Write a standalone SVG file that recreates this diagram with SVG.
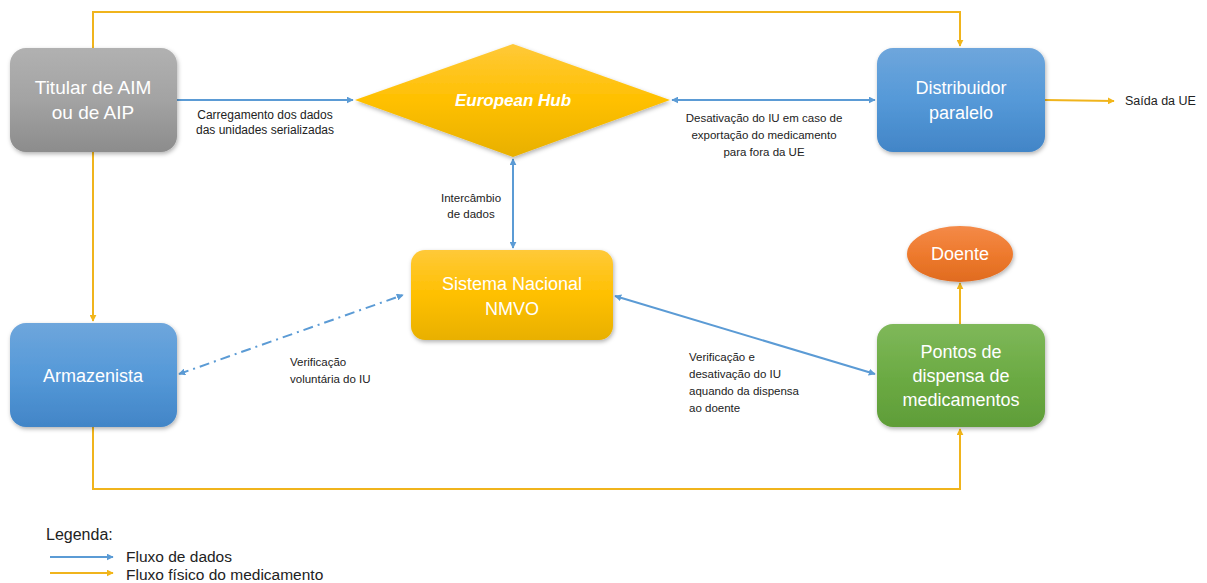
<svg xmlns="http://www.w3.org/2000/svg" width="1207" height="583" viewBox="0 0 1207 583">
<defs>
  <linearGradient id="gGray" x1="0" y1="0" x2="0" y2="1"><stop offset="0" stop-color="#b1b1b1"/><stop offset="0.5" stop-color="#a3a3a3"/><stop offset="1" stop-color="#8c8c8c"/></linearGradient>
  <linearGradient id="gBlue" x1="0" y1="0" x2="0" y2="1"><stop offset="0" stop-color="#6ea6dc"/><stop offset="0.5" stop-color="#5599d8"/><stop offset="1" stop-color="#4285c7"/></linearGradient>
  <linearGradient id="gYellow" x1="0" y1="0" x2="0" y2="1"><stop offset="0" stop-color="#ffc939"/><stop offset="0.5" stop-color="#ffc000"/><stop offset="1" stop-color="#e8b000"/></linearGradient>
  <linearGradient id="gGreen" x1="0" y1="0" x2="0" y2="1"><stop offset="0" stop-color="#7fb85a"/><stop offset="0.5" stop-color="#6cab44"/><stop offset="1" stop-color="#5f9d38"/></linearGradient>
  <linearGradient id="gOrange" x1="0" y1="0" x2="0" y2="1"><stop offset="0" stop-color="#f48a48"/><stop offset="0.5" stop-color="#ee7a2e"/><stop offset="1" stop-color="#e06b20"/></linearGradient>
  <filter id="sh" x="-10%" y="-10%" width="130%" height="140%"><feDropShadow dx="1" dy="2" stdDeviation="2" flood-color="#000" flood-opacity="0.3"/></filter>
  <marker id="aB" viewBox="0 0 10 10" refX="9" refY="5" markerWidth="7" markerHeight="7" markerUnits="userSpaceOnUse" orient="auto-start-reverse"><path d="M0,0 L10,5 L0,10 z" fill="#5b9bd5"/></marker>
  <marker id="aY" viewBox="0 0 10 10" refX="9" refY="5" markerWidth="7" markerHeight="7" markerUnits="userSpaceOnUse" orient="auto-start-reverse"><path d="M0,0 L10,5 L0,10 z" fill="#f2b619"/></marker>
</defs>
<style>
  .nt{font-family:"Liberation Sans",Arial,sans-serif;font-size:18px;fill:#ffffff;text-anchor:middle}
  .lb{font-family:"Liberation Sans",Arial,sans-serif;font-size:11.5px;fill:#222222}
  .lg{font-family:"Liberation Sans",Arial,sans-serif;font-size:15.5px;fill:#222222}
  .db{stroke:#5b9bd5;stroke-width:2;fill:none}
  .py{stroke:#f0b41c;stroke-width:2;fill:none}
</style>
<rect width="1207" height="583" fill="#ffffff"/>

<g id="connectors">
  <path class="py" d="M93,48 V12 H960 V46" marker-end="url(#aY)"/>
  <path class="py" d="M93,152 V321" marker-end="url(#aY)"/>
  <path class="py" d="M93,427 V489 H960 V429" marker-end="url(#aY)"/>
  <path class="py" d="M960,324 V283" marker-end="url(#aY)"/>
  <path class="py" d="M1045,100 L1114,101" marker-end="url(#aY)"/>
  <path class="db" d="M177,100 H353" marker-end="url(#aB)"/>
  <path class="db" d="M672,100 H875" marker-start="url(#aB)" marker-end="url(#aB)"/>
  <path class="db" d="M513,159 V248" marker-start="url(#aB)" marker-end="url(#aB)"/>
  <path class="db" d="M179,374 L403,295" stroke-dasharray="10,5,2,5" marker-start="url(#aB)" marker-end="url(#aB)"/>
  <path class="db" d="M615,296 L875,374" marker-start="url(#aB)" marker-end="url(#aB)"/>
  <text class="lb" x="265" y="119" text-anchor="middle" style="font-size:12px">Carregamento dos dados</text>
  <text class="lb" x="265" y="134" text-anchor="middle" style="font-size:12px">das unidades serializadas</text>
  <text class="lb" x="764" y="122" text-anchor="middle">Desativação do IU em caso de</text>
  <text class="lb" x="764" y="139" text-anchor="middle">exportação do medicamento</text>
  <text class="lb" x="764" y="156" text-anchor="middle">para fora da UE</text>
  <text class="lb" x="471" y="202" text-anchor="middle">Intercâmbio</text>
  <text class="lb" x="471" y="218" text-anchor="middle">de dados</text>
  <text class="lb" x="290" y="366">Verificação</text>
  <text class="lb" x="290" y="383">voluntária do IU</text>
  <text class="lb" x="689" y="361">Verificação e</text>
  <text class="lb" x="689" y="378">desativação do IU</text>
  <text class="lb" x="689" y="395">aquando da dispensa</text>
  <text class="lb" x="689" y="412">ao doente</text>
  <text class="lg" x="1125" y="105" style="font-size:12.5px">Saída da UE</text>
</g>

<g id="titular">
  <rect x="10" y="48" width="167" height="104" rx="16" fill="url(#gGray)" filter="url(#sh)"/>
  <text class="nt" x="93" y="94" style="font-size:19px">Titular de AIM</text>
  <text class="nt" x="93" y="119" style="font-size:19px">ou de AIP</text>
</g>
<g id="hub">
  <polygon points="355,100 513,44 670,100 513,157" fill="url(#gYellow)" filter="url(#sh)"/>
  <text class="nt" x="513" y="106" font-weight="bold" font-style="italic" style="font-size:17px">European Hub</text>
</g>
<g id="distribuidor">
  <rect x="877" y="48" width="168" height="104" rx="16" fill="url(#gBlue)" filter="url(#sh)"/>
  <text class="nt" x="961" y="94">Distribuidor</text>
  <text class="nt" x="961" y="119">paralelo</text>
</g>
<g id="sistema">
  <rect x="411" y="250" width="202" height="90" rx="14" fill="url(#gYellow)" filter="url(#sh)"/>
  <text class="nt" x="512" y="290">Sistema Nacional</text>
  <text class="nt" x="512" y="315">NMVO</text>
</g>
<g id="armazenista">
  <rect x="10" y="323" width="167" height="104" rx="16" fill="url(#gBlue)" filter="url(#sh)"/>
  <text class="nt" x="93" y="382">Armazenista</text>
</g>
<g id="doente">
  <ellipse cx="960" cy="254" rx="53" ry="28" fill="url(#gOrange)" filter="url(#sh)"/>
  <text class="nt" x="960" y="260">Doente</text>
</g>
<g id="pontos">
  <rect x="877" y="324" width="168" height="103" rx="16" fill="url(#gGreen)" filter="url(#sh)"/>
  <text class="nt" x="961" y="358">Pontos de</text>
  <text class="nt" x="961" y="382">dispensa de</text>
  <text class="nt" x="961" y="406">medicamentos</text>
</g>

<g id="legend">
  <text class="lg" x="46" y="540" style="font-size:16px">Legenda:</text>
  <path class="db" d="M50,557 H113" marker-end="url(#aB)" stroke-width="1.5"/>
  <text class="lg" x="126" y="562">Fluxo de dados</text>
  <path class="py" d="M50,573 H113" marker-end="url(#aY)" stroke-width="1.5"/>
  <text class="lg" x="126" y="580">Fluxo físico do medicamento</text>
</g>
</svg>
